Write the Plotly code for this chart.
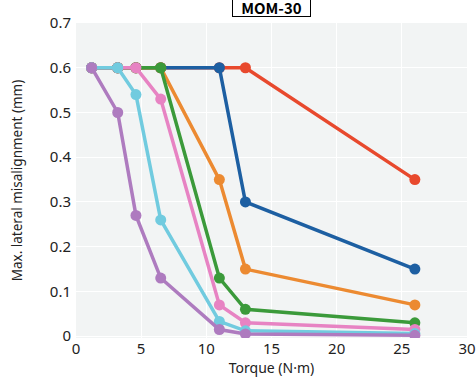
import plotly.graph_objects as go

torque = [1.2, 3.2, 4.6, 6.5, 11, 13, 26]

red = [0.6, 0.6, 0.6, 0.6, 0.6, 0.6, 0.35]
blue = [0.6, 0.6, 0.6, 0.6, 0.6, 0.30, 0.15]
orange = [0.6, 0.6, 0.6, 0.6, 0.35, 0.15, 0.07]
green = [0.6, 0.6, 0.6, 0.6, 0.13, 0.06, 0.03]
pink = [0.6, 0.6, 0.6, 0.53, 0.07, 0.03, 0.015]
cyan = [0.6, 0.6, 0.54, 0.26, 0.033, 0.012, 0.006]
purple = [0.6, 0.5, 0.27, 0.13, 0.015, 0.005, 0.002]

series = [
    ("red", red, "#e8492d"),
    ("blue", blue, "#1d5fa2"),
    ("orange", orange, "#ec8a31"),
    ("green", green, "#3b9a3a"),
    ("pink", pink, "#e783c3"),
    ("cyan", cyan, "#71cbdf"),
    ("purple", purple, "#ae7bbf"),
]

fig = go.Figure()
for name, ys, col in series:
    fig.add_trace(go.Scatter(
        x=torque, y=ys, name=name, mode="lines+markers",
        line=dict(color=col, width=3.5),
        marker=dict(color=col, size=11),
        showlegend=False,
    ))

font = "Noto Sans CJK JP, Open Sans, sans-serif"
tfont = "Noto Sans, Open Sans, sans-serif"
fig.update_layout(
    width=476, height=381,
    margin=dict(l=76, r=9, t=23, b=43),
    paper_bgcolor="white",
    plot_bgcolor="#f2f4f4",
    font=dict(family=font, size=14, color="#222"),
    showlegend=False,
)
fig.update_xaxes(
    range=[0, 30], dtick=5, tick0=0, automargin=False,
    showgrid=True, gridcolor="white", gridwidth=1.2,
    zeroline=False, showline=False, ticks="",
    title=dict(text="Torque (N·m)", font=dict(size=14, family=tfont), standoff=2),
    tickfont=dict(size=15, family=tfont),
)
fig.update_yaxes(
    range=[-0.004, 0.7], dtick=0.1, tick0=0, automargin=False,
    showgrid=True, gridcolor="white", gridwidth=1.2,
    zeroline=False, showline=False, ticks="", ticklabelstandoff=4,
    title=dict(text="Max. lateral misalignment (mm)", font=dict(size=13.5, family=tfont), standoff=24),
    tickfont=dict(size=15, family=tfont),
)
fig.add_annotation(
    x=0.5, y=1.0, xref="paper", yref="paper", xanchor="center", yanchor="bottom",
    yshift=6, width=77, height=17,
    text="<b>MOM-30</b>", showarrow=False,
    font=dict(size=15, color="black", family=font),
    bordercolor="black", borderwidth=1, bgcolor="white", borderpad=0,
)
fig.write_html("out.html", config={"displayModeBar": False},
               post_script="document.body.style.margin='0';")
